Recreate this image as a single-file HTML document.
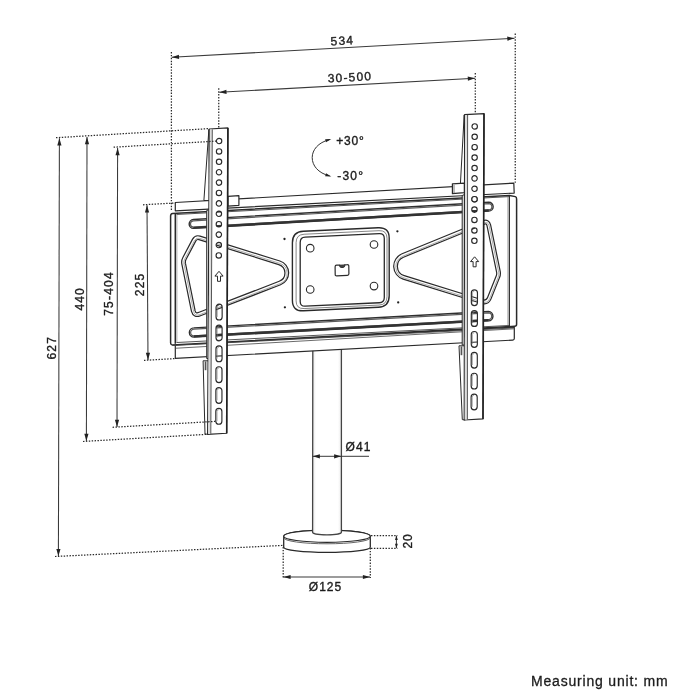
<!DOCTYPE html>
<html><head><meta charset="utf-8"><title>TV stand dimensions</title>
<style>
html,body{margin:0;padding:0;background:#fff;}
body{width:700px;height:700px;overflow:hidden;}
svg{display:block;will-change:transform;font-family:"Liberation Sans",sans-serif;}
</style></head><body>
<svg width="700" height="700" viewBox="0 0 700 700">
<rect width="700" height="700" fill="#fff"/>
<g id="frame">
<defs><linearGradient id="pg" x1="0" x2="1" y1="0" y2="0"><stop offset="0" stop-color="#e8e8e8"/><stop offset="0.12" stop-color="#fff"/><stop offset="0.88" stop-color="#fff"/><stop offset="1" stop-color="#ececec"/></linearGradient></defs>
<path d="M283.7 536.2 L283.7 547.2 A43.3 5.1 0 0 0 370.3 547.2 L370.3 536.2 A43.3 6.1 0 0 0 283.7 536.2 Z" fill="#fff" stroke="#2a2a2a" stroke-width="1.3"/>
<ellipse cx="327.0" cy="536.2" rx="43.3" ry="6.1" fill="#fff" stroke="#2a2a2a" stroke-width="1.2"/>
<path d="M283.7 537.7 A43.3 6.1 0 0 0 370.3 537.7" fill="none" stroke="#555" stroke-width="0.9"/>
<path d="M312.8 350 L312.6 532.3 A14.4 2.6 0 0 0 341.4 532.3 L341.4 348.5 Z" fill="url(#pg)" stroke="none"/>
<path d="M312.8 350 L312.6 532.3 A14.4 2.6 0 0 0 341.4 532.3 L341.4 348.5" fill="none" stroke="#444" stroke-width="1.3"/>
<path d="M175.3 202.50 L513.8 183.08 L514.1999999999999 193.03 L175.3 210.80 Z" fill="#fff" stroke="#2a2a2a" stroke-width="1.2" stroke-linejoin="round"/>
<path d="M175.3 344.58 L514.3 327.18 L514.3 338.54 Q514.3 340.04 512.8 340.12 L175.3 358.35 Z" fill="#fff" stroke="#2a2a2a" stroke-width="1.2" stroke-linejoin="round"/>
<line x1="175.30" y1="348.28" x2="514.30" y2="328.81" stroke="#444" stroke-width="0.8" />
<path d="M172.6 213.48 L509.4 195.40 L515.4 196.62 Q516.6 197.02 516.6 199.02 L516.6 324.27 Q516.6 326.27 514.6 326.37 L172.6 344.92 Q170.6 345.03 170.6 342.53 L170.6 216.09 Q170.6 213.59 172.6 213.48 Z" fill="#fff" stroke="#2a2a2a" stroke-width="1.5" stroke-linejoin="round"/>
<line x1="176.50" y1="214.47" x2="509.40" y2="196.60" stroke="#555" stroke-width="1.0" />
<line x1="176.50" y1="342.52" x2="509.40" y2="325.44" stroke="#555" stroke-width="1.0" />
<line x1="172.50" y1="345.53" x2="513.50" y2="327.93" stroke="#444" stroke-width="0.9" />
<line x1="175.30" y1="213.84" x2="175.30" y2="343.78" stroke="#2a2a2a" stroke-width="1.5" />
<line x1="176.90" y1="214.45" x2="176.90" y2="342.50" stroke="#777" stroke-width="0.6" />
<line x1="509.40" y1="195.40" x2="509.40" y2="326.64" stroke="#2a2a2a" stroke-width="1.1" />
<line x1="508.00" y1="196.78" x2="508.00" y2="325.41" stroke="#666" stroke-width="0.7" />
<path d="M193.41 219.49 L488.75 202.24 A4.40 4.40 0 0 1 488.75 211.04 L193.41 228.40 A4.46 4.46 0 0 1 193.41 219.49 Z" fill="#fff" stroke="#303030" stroke-width="1.4"/>
<path d="M193.41 220.79 L488.75 203.54 A3.10 3.10 0 0 1 488.75 209.74 L193.41 227.10 A3.16 3.16 0 0 1 193.41 220.79 Z" fill="none" stroke="#5a5a5a" stroke-width="1.2"/>
<path d="M193.41 227.75 L488.75 210.39" fill="none" stroke="#333" stroke-width="2.2"/>
<path d="M193.95 327.83 L488.49 311.55 A4.66 4.66 0 0 1 488.49 320.86 L193.95 337.03 A4.60 4.60 0 0 1 193.95 327.83 Z" fill="#fff" stroke="#303030" stroke-width="1.4"/>
<path d="M193.95 329.13 L488.49 312.85 A3.36 3.36 0 0 1 488.49 319.56 L193.95 335.73 A3.30 3.30 0 0 1 193.95 329.13 Z" fill="none" stroke="#5a5a5a" stroke-width="1.2"/>
<path d="M193.95 336.38 L488.49 320.21" fill="none" stroke="#333" stroke-width="2.2"/>
<path d="M292.40 242.80 Q292.40 231.80 303.39 231.28 L378.21 227.72 Q389.20 227.20 389.20 238.20 L389.20 295.80 Q389.20 306.80 378.21 307.31 L303.39 310.79 Q292.40 311.30 292.40 300.30 Z" fill="#fff" stroke="#2a2a2a" stroke-width="1.4"/>
<path d="M296.10 242.62 Q296.10 234.62 304.09 234.24 L379.01 230.68 Q387.00 230.30 387.00 238.30 L387.00 296.70 Q387.00 304.70 379.01 305.07 L304.09 308.56 Q296.10 308.93 296.10 300.93 Z" fill="none" stroke="#666" stroke-width="0.8"/>
<path d="M300.20 242.43 Q300.20 237.43 305.19 237.19 L379.31 233.67 Q384.30 233.43 384.30 238.43 L384.30 297.53 Q384.30 302.53 379.31 302.76 L305.19 306.21 Q300.20 306.44 300.20 301.44 Z" fill="none" stroke="#2a2a2a" stroke-width="1.3"/>
<circle cx="310.2" cy="248.2" r="3.8" fill="#fff" stroke="#2a2a2a" stroke-width="1.1"/>
<circle cx="374.0" cy="244.5" r="3.8" fill="#fff" stroke="#2a2a2a" stroke-width="1.1"/>
<circle cx="310.2" cy="289.5" r="3.8" fill="#fff" stroke="#2a2a2a" stroke-width="1.1"/>
<circle cx="374.0" cy="286.1" r="3.8" fill="#fff" stroke="#2a2a2a" stroke-width="1.1"/>
<circle cx="284.5" cy="239.0" r="1.15" fill="#222"/>
<circle cx="397.4" cy="231.3" r="1.15" fill="#222"/>
<circle cx="284.9" cy="307.3" r="1.15" fill="#222"/>
<circle cx="398.2" cy="302.4" r="1.15" fill="#222"/>
<path d="M336.6 265.2 L339.6 265.05 A2.6 2.4 0 0 0 344.8 264.8 L347.3 264.7 Q348.8 264.6 348.8 266.2 L348.9 273.8 Q348.9 275.3 347.4 275.4 L336.8 275.9 Q335.2 276.0 335.2 274.4 L335.1 266.8 Q335.1 265.3 336.6 265.2 Z" fill="#fff" stroke="#2a2a2a" stroke-width="1.2"/>
<path d="M339.6 265.05 A2.6 2.4 0 0 0 344.8 264.8 Z" fill="#444" stroke="#333" stroke-width="0.6"/>
<path d="M199.5 237.9 L279.3 262.8 A10.7 10.7 0 0 1 279.9 283.0 L199.8 314.0 Q194.6 316.2 193.3 311 L183.6 263.4 Q183.2 260.8 184.5 258.4 L194.2 240 Q196 236.8 199.5 237.9 Z" fill="none" stroke="#2a2a2a" stroke-width="4.9" stroke-linejoin="round" stroke-linecap="round"/>
<path d="M199.5 237.9 L279.3 262.8 A10.7 10.7 0 0 1 279.9 283.0 L199.8 314.0 Q194.6 316.2 193.3 311 L183.6 263.4 Q183.2 260.8 184.5 258.4 L194.2 240 Q196 236.8 199.5 237.9 Z" fill="none" stroke="#fff" stroke-width="2.5" stroke-linejoin="round" stroke-linecap="round"/>
<path d="M199.5 237.9 L279.3 262.8 A10.7 10.7 0 0 1 279.9 283.0 L199.8 314.0 Q194.6 316.2 193.3 311 L183.6 263.4 Q183.2 260.8 184.5 258.4 L194.2 240 Q196 236.8 199.5 237.9 Z" fill="none" stroke="#777" stroke-width="0.6" stroke-linejoin="round" transform="translate(0.3,0.5)"/>
<path d="M402.8 255.5 L483.5 222.5 Q487.8 220.8 488.8 225.2 L498.4 271.8 Q498.9 274.4 497.9 276.7 L489.3 298.2 Q487.3 303.2 481.5 301.5 L403.7 277.4 A11.65 11.65 0 0 1 402.8 255.5 Z" fill="none" stroke="#2a2a2a" stroke-width="4.9" stroke-linejoin="round" stroke-linecap="round"/>
<path d="M402.8 255.5 L483.5 222.5 Q487.8 220.8 488.8 225.2 L498.4 271.8 Q498.9 274.4 497.9 276.7 L489.3 298.2 Q487.3 303.2 481.5 301.5 L403.7 277.4 A11.65 11.65 0 0 1 402.8 255.5 Z" fill="none" stroke="#fff" stroke-width="2.5" stroke-linejoin="round" stroke-linecap="round"/>
<path d="M402.8 255.5 L483.5 222.5 Q487.8 220.8 488.8 225.2 L498.4 271.8 Q498.9 274.4 497.9 276.7 L489.3 298.2 Q487.3 303.2 481.5 301.5 L403.7 277.4 A11.65 11.65 0 0 1 402.8 255.5 Z" fill="none" stroke="#777" stroke-width="0.6" stroke-linejoin="round" transform="translate(0.3,0.5)"/>
</g>
<g id="brackets">
<path d="M208.9 129.3 L203.9 200.5 L209.8 200.5 Z" fill="#fff" stroke="#2a2a2a" stroke-width="1.0" stroke-linejoin="round"/>
<path d="M203.1 360.8 L205.0 434.0 L208.6 434.4 L208.6 360.8 Z" fill="#fff" stroke="#2a2a2a" stroke-width="1.0" stroke-linejoin="round"/>
<rect x="204.7" y="361.40000000000003" width="1.7" height="8.8" fill="#555"/>
<path d="M228.0 196.4 L238.9 195.7 L238.9 205.29999999999998 L228.0 206.20000000000002 Z" fill="#fff" stroke="#2a2a2a" stroke-width="1.2" stroke-linejoin="round"/>
<path d="M209.3 209.5 L206.7 210.5 L206.7 358.5 L208.6 358.5 Z" fill="#e4e4e4" stroke="#2a2a2a" stroke-width="1.0" stroke-linejoin="round"/>
<path d="M209.3 129.0 L227.9 127.9 L226.7 433.2 L207.6 434.4 Z M216.40 141.00 a2.7 2.7 0 1 0 5.4 0 a2.7 2.7 0 1 0 -5.4 0 Z M216.37 151.40 a2.7 2.7 0 1 0 5.4 0 a2.7 2.7 0 1 0 -5.4 0 Z M216.34 161.80 a2.7 2.7 0 1 0 5.4 0 a2.7 2.7 0 1 0 -5.4 0 Z M216.31 172.20 a2.7 2.7 0 1 0 5.4 0 a2.7 2.7 0 1 0 -5.4 0 Z M216.28 182.60 a2.7 2.7 0 1 0 5.4 0 a2.7 2.7 0 1 0 -5.4 0 Z M216.25 193.00 a2.7 2.7 0 1 0 5.4 0 a2.7 2.7 0 1 0 -5.4 0 Z M216.22 203.40 a2.7 2.7 0 1 0 5.4 0 a2.7 2.7 0 1 0 -5.4 0 Z M216.19 213.80 a2.7 2.7 0 1 0 5.4 0 a2.7 2.7 0 1 0 -5.4 0 Z M216.16 224.20 a2.7 2.7 0 1 0 5.4 0 a2.7 2.7 0 1 0 -5.4 0 Z M216.13 234.60 a2.7 2.7 0 1 0 5.4 0 a2.7 2.7 0 1 0 -5.4 0 Z M216.10 245.00 a2.7 2.7 0 1 0 5.4 0 a2.7 2.7 0 1 0 -5.4 0 Z M216.07 255.40 a2.7 2.7 0 1 0 5.4 0 a2.7 2.7 0 1 0 -5.4 0 Z M216.05 307.25 a3.05 3.05 0 0 1 6.1 0 L222.15 316.95 a3.05 3.05 0 0 1 -6.1 0 Z M216.00 328.10 a3.05 3.05 0 0 1 6.1 0 L222.10 337.80 a3.05 3.05 0 0 1 -6.1 0 Z M215.95 348.95 a3.05 3.05 0 0 1 6.1 0 L222.05 358.65 a3.05 3.05 0 0 1 -6.1 0 Z M215.90 369.80 a3.05 3.05 0 0 1 6.1 0 L222.00 379.50 a3.05 3.05 0 0 1 -6.1 0 Z M215.85 390.65 a3.05 3.05 0 0 1 6.1 0 L221.95 400.35 a3.05 3.05 0 0 1 -6.1 0 Z M215.80 411.50 a3.05 3.05 0 0 1 6.1 0 L221.90 421.20 a3.05 3.05 0 0 1 -6.1 0 Z " fill="#fff" fill-rule="evenodd" stroke="#2a2a2a" stroke-width="1.15" stroke-linejoin="round"/>
<path d="M209.9 129.5 L212.20000000000002 129.4 L210.7 433.9 L208.2 434.0 Z" fill="#dcdcdc" stroke="none"/>
<line x1="212.30" y1="129.40" x2="210.80" y2="433.90" stroke="#444" stroke-width="0.9" />
<line x1="227.90" y1="127.90" x2="226.70" y2="433.20" stroke="#222" stroke-width="1.6" />
<path d="M217.25 316.95 L217.25 307.25 a1.8499999999999999 1.8499999999999999 0 0 1 1.85 -1.85" fill="none" stroke="#777" stroke-width="0.6"/>
<path d="M217.20 337.80 L217.20 328.10 a1.8499999999999999 1.8499999999999999 0 0 1 1.85 -1.85" fill="none" stroke="#777" stroke-width="0.6"/>
<path d="M217.15 358.65 L217.15 348.95 a1.8499999999999999 1.8499999999999999 0 0 1 1.85 -1.85" fill="none" stroke="#777" stroke-width="0.6"/>
<path d="M217.10 379.50 L217.10 369.80 a1.8499999999999999 1.8499999999999999 0 0 1 1.85 -1.85" fill="none" stroke="#777" stroke-width="0.6"/>
<path d="M217.05 400.35 L217.05 390.65 a1.8499999999999999 1.8499999999999999 0 0 1 1.85 -1.85" fill="none" stroke="#777" stroke-width="0.6"/>
<path d="M217.00 421.20 L217.00 411.50 a1.8499999999999999 1.8499999999999999 0 0 1 1.85 -1.85" fill="none" stroke="#777" stroke-width="0.6"/>
<path d="M219.0 271.3 L223.1 276.1 L220.5 276.1 L220.5 281.3 L217.5 281.3 L217.5 276.1 L214.9 276.1 Z" fill="#fff" stroke="#2a2a2a" stroke-width="1.0" stroke-linejoin="round"/>
<path d="M464.20000000000005 114.89999999999999 L460.4 184 L465.1 184 Z" fill="#fff" stroke="#2a2a2a" stroke-width="1.0" stroke-linejoin="round"/>
<path d="M459.0 345.8 L462.3 419.6 L465.2 420.0 L465.2 345.8 Z" fill="#fff" stroke="#2a2a2a" stroke-width="1.0" stroke-linejoin="round"/>
<rect x="460.6" y="346.40000000000003" width="1.7" height="8.8" fill="#555"/>
<path d="M452.4 183.8 L464.4 183.1 L464.4 192.7 L452.4 193.60000000000002 Z" fill="#fff" stroke="#2a2a2a" stroke-width="1.2" stroke-linejoin="round"/>
<path d="M454.0 185.0 L454.0 193.4" stroke="#555" stroke-width="0.8"/>
<path d="M464.6 194.5 L462.2 195.5 L462.2 345.0 L465.2 345.0 Z" fill="#e4e4e4" stroke="#2a2a2a" stroke-width="1.0" stroke-linejoin="round"/>
<path d="M464.6 114.6 L484.0 113.6 L483.0 418.9 L464.2 420.0 Z M472.00 126.40 a2.7 2.7 0 1 0 5.4 0 a2.7 2.7 0 1 0 -5.4 0 Z M471.97 136.80 a2.7 2.7 0 1 0 5.4 0 a2.7 2.7 0 1 0 -5.4 0 Z M471.94 147.20 a2.7 2.7 0 1 0 5.4 0 a2.7 2.7 0 1 0 -5.4 0 Z M471.91 157.60 a2.7 2.7 0 1 0 5.4 0 a2.7 2.7 0 1 0 -5.4 0 Z M471.88 168.00 a2.7 2.7 0 1 0 5.4 0 a2.7 2.7 0 1 0 -5.4 0 Z M471.85 178.40 a2.7 2.7 0 1 0 5.4 0 a2.7 2.7 0 1 0 -5.4 0 Z M471.82 188.80 a2.7 2.7 0 1 0 5.4 0 a2.7 2.7 0 1 0 -5.4 0 Z M471.79 199.20 a2.7 2.7 0 1 0 5.4 0 a2.7 2.7 0 1 0 -5.4 0 Z M471.76 209.60 a2.7 2.7 0 1 0 5.4 0 a2.7 2.7 0 1 0 -5.4 0 Z M471.73 220.00 a2.7 2.7 0 1 0 5.4 0 a2.7 2.7 0 1 0 -5.4 0 Z M471.70 230.40 a2.7 2.7 0 1 0 5.4 0 a2.7 2.7 0 1 0 -5.4 0 Z M471.67 240.80 a2.7 2.7 0 1 0 5.4 0 a2.7 2.7 0 1 0 -5.4 0 Z M471.35 292.85 a3.05 3.05 0 0 1 6.1 0 L477.45 302.55 a3.05 3.05 0 0 1 -6.1 0 Z M471.30 313.70 a3.05 3.05 0 0 1 6.1 0 L477.40 323.40 a3.05 3.05 0 0 1 -6.1 0 Z M471.25 334.55 a3.05 3.05 0 0 1 6.1 0 L477.35 344.25 a3.05 3.05 0 0 1 -6.1 0 Z M471.20 355.40 a3.05 3.05 0 0 1 6.1 0 L477.30 365.10 a3.05 3.05 0 0 1 -6.1 0 Z M471.15 376.25 a3.05 3.05 0 0 1 6.1 0 L477.25 385.95 a3.05 3.05 0 0 1 -6.1 0 Z M471.10 397.10 a3.05 3.05 0 0 1 6.1 0 L477.20 406.80 a3.05 3.05 0 0 1 -6.1 0 Z " fill="#fff" fill-rule="evenodd" stroke="#2a2a2a" stroke-width="1.15" stroke-linejoin="round"/>
<circle cx="474.49" cy="199.20" r="2.7" fill="#fff" stroke="#2a2a2a" stroke-width="1.15"/>
<path d="M465.20000000000005 115.1 L467.5 115.0 L467.3 419.5 L464.8 419.6 Z" fill="#dcdcdc" stroke="none"/>
<line x1="467.60" y1="115.00" x2="467.40" y2="419.50" stroke="#444" stroke-width="0.9" />
<line x1="484.00" y1="113.60" x2="483.00" y2="418.90" stroke="#222" stroke-width="1.6" />
<path d="M472.55 302.55 L472.55 292.85 a1.8499999999999999 1.8499999999999999 0 0 1 1.85 -1.85" fill="none" stroke="#777" stroke-width="0.6"/>
<path d="M472.50 323.40 L472.50 313.70 a1.8499999999999999 1.8499999999999999 0 0 1 1.85 -1.85" fill="none" stroke="#777" stroke-width="0.6"/>
<path d="M472.45 344.25 L472.45 334.55 a1.8499999999999999 1.8499999999999999 0 0 1 1.85 -1.85" fill="none" stroke="#777" stroke-width="0.6"/>
<path d="M472.40 365.10 L472.40 355.40 a1.8499999999999999 1.8499999999999999 0 0 1 1.85 -1.85" fill="none" stroke="#777" stroke-width="0.6"/>
<path d="M472.35 385.95 L472.35 376.25 a1.8499999999999999 1.8499999999999999 0 0 1 1.85 -1.85" fill="none" stroke="#777" stroke-width="0.6"/>
<path d="M472.30 406.80 L472.30 397.10 a1.8499999999999999 1.8499999999999999 0 0 1 1.85 -1.85" fill="none" stroke="#777" stroke-width="0.6"/>
<path d="M474.59999999999997 256.8 L478.7 261.6 L476.09999999999997 261.6 L476.09999999999997 266.8 L473.09999999999997 266.8 L473.09999999999997 261.6 L470.49999999999994 261.6 Z" fill="#fff" stroke="#2a2a2a" stroke-width="1.0" stroke-linejoin="round"/>
</g>
<g id="dims">
<line x1="171.40" y1="52.00" x2="171.40" y2="211.00" stroke="#2a2a2a" stroke-width="1.25" stroke-dasharray="1.45 1.45"/>
<line x1="515.25" y1="33.50" x2="515.25" y2="183.00" stroke="#2a2a2a" stroke-width="1.25" stroke-dasharray="1.45 1.45"/>
<line x1="171.80" y1="57.30" x2="514.50" y2="38.30" stroke="#3a3a3a" stroke-width="1.05" />
<polygon points="171.80,57.30 178.87,54.80 179.11,59.00" fill="#222"/>
<polygon points="514.50,38.30 507.43,40.80 507.19,36.60" fill="#222"/>
<line x1="218.75" y1="88.30" x2="218.75" y2="128.00" stroke="#2a2a2a" stroke-width="1.25" stroke-dasharray="1.45 1.45"/>
<line x1="475.30" y1="73.00" x2="475.30" y2="113.50" stroke="#2a2a2a" stroke-width="1.25" stroke-dasharray="1.45 1.45"/>
<line x1="219.30" y1="92.30" x2="475.00" y2="78.30" stroke="#3a3a3a" stroke-width="1.05" />
<polygon points="219.30,92.30 226.37,89.81 226.60,94.00" fill="#222"/>
<polygon points="475.00,78.30 467.93,80.79 467.70,76.60" fill="#222"/>
<line x1="56.00" y1="137.70" x2="209.00" y2="128.60" stroke="#2a2a2a" stroke-width="1.25" stroke-dasharray="1.45 1.45"/>
<line x1="113.60" y1="147.20" x2="216.00" y2="141.10" stroke="#2a2a2a" stroke-width="1.25" stroke-dasharray="1.45 1.45"/>
<line x1="143.00" y1="204.80" x2="175.00" y2="203.00" stroke="#2a2a2a" stroke-width="1.25" stroke-dasharray="1.45 1.45"/>
<line x1="144.00" y1="360.40" x2="175.00" y2="358.60" stroke="#2a2a2a" stroke-width="1.25" stroke-dasharray="1.45 1.45"/>
<line x1="112.60" y1="427.30" x2="216.00" y2="421.30" stroke="#2a2a2a" stroke-width="1.25" stroke-dasharray="1.45 1.45"/>
<line x1="83.00" y1="441.50" x2="207.00" y2="434.30" stroke="#2a2a2a" stroke-width="1.25" stroke-dasharray="1.45 1.45"/>
<line x1="55.00" y1="556.50" x2="283.00" y2="545.40" stroke="#2a2a2a" stroke-width="1.25" stroke-dasharray="1.45 1.45"/>
<line x1="59.40" y1="138.20" x2="58.40" y2="556.10" stroke="#3a3a3a" stroke-width="1.05" />
<polygon points="59.40,138.20 61.48,145.41 57.28,145.39" fill="#222"/>
<polygon points="58.40,556.10 56.32,548.89 60.52,548.91" fill="#222"/>
<line x1="87.00" y1="137.00" x2="86.40" y2="441.00" stroke="#3a3a3a" stroke-width="1.05" />
<polygon points="87.00,137.00 89.09,144.20 84.89,144.20" fill="#222"/>
<polygon points="86.40,441.00 84.31,433.80 88.51,433.80" fill="#222"/>
<line x1="117.60" y1="148.00" x2="117.00" y2="427.00" stroke="#3a3a3a" stroke-width="1.05" />
<polygon points="117.60,148.00 119.68,155.20 115.48,155.20" fill="#222"/>
<polygon points="117.00,427.00 114.92,419.80 119.12,419.80" fill="#222"/>
<line x1="147.00" y1="205.30" x2="148.00" y2="360.00" stroke="#3a3a3a" stroke-width="1.05" />
<polygon points="147.00,205.30 149.15,212.49 144.95,212.51" fill="#222"/>
<polygon points="148.00,360.00 145.85,352.81 150.05,352.79" fill="#222"/>
<line x1="312.50" y1="456.30" x2="369.00" y2="456.30" stroke="#3a3a3a" stroke-width="1.0" />
<polygon points="312.70,456.30 319.90,454.20 319.90,458.40" fill="#222"/>
<polygon points="341.30,456.30 334.10,458.40 334.10,454.20" fill="#222"/>
<line x1="283.20" y1="547.00" x2="283.20" y2="578.00" stroke="#2a2a2a" stroke-width="1.25" stroke-dasharray="1.45 1.45"/>
<line x1="370.30" y1="548.00" x2="370.30" y2="578.00" stroke="#2a2a2a" stroke-width="1.25" stroke-dasharray="1.45 1.45"/>
<line x1="283.40" y1="577.00" x2="370.10" y2="577.00" stroke="#3a3a3a" stroke-width="1.05" />
<polygon points="283.40,577.00 290.60,574.90 290.60,579.10" fill="#222"/>
<polygon points="370.10,577.00 362.90,579.10 362.90,574.90" fill="#222"/>
<line x1="371.00" y1="535.50" x2="397.50" y2="535.50" stroke="#2a2a2a" stroke-width="1.25" stroke-dasharray="1.45 1.45"/>
<line x1="371.00" y1="548.30" x2="397.50" y2="548.30" stroke="#2a2a2a" stroke-width="1.25" stroke-dasharray="1.45 1.45"/>
<line x1="396.40" y1="535.60" x2="396.40" y2="548.20" stroke="#333" stroke-width="1.0" />
<polygon points="396.40,535.60 397.80,540.10 395.00,540.10" fill="#222"/>
<polygon points="396.40,548.20 395.00,543.70 397.80,543.70" fill="#222"/>
<text x="330.70" y="45.40" font-size="12" text-anchor="start" font-weight="normal" fill="#1c1c1c" stroke="#1c1c1c" stroke-width="0.36" transform="rotate(-3.15 330.70 45.40)" textLength="22.6" lengthAdjust="spacing">534</text>
<text x="328.00" y="82.60" font-size="12" text-anchor="start" font-weight="normal" fill="#1c1c1c" stroke="#1c1c1c" stroke-width="0.36" transform="rotate(-3.15 328.00 82.60)" textLength="43.2" lengthAdjust="spacing">30-500</text>
<text x="56.30" y="359.60" font-size="12" text-anchor="start" font-weight="normal" fill="#1c1c1c" stroke="#1c1c1c" stroke-width="0.36" transform="rotate(-90 56.30 359.60)" textLength="22.6" lengthAdjust="spacing">627</text>
<text x="83.90" y="310.60" font-size="12" text-anchor="start" font-weight="normal" fill="#1c1c1c" stroke="#1c1c1c" stroke-width="0.36" transform="rotate(-90 83.90 310.60)" textLength="22.2" lengthAdjust="spacing">440</text>
<text x="113.50" y="315.80" font-size="12" text-anchor="start" font-weight="normal" fill="#1c1c1c" stroke="#1c1c1c" stroke-width="0.36" transform="rotate(-90 113.50 315.80)" textLength="43.4" lengthAdjust="spacing">75-404</text>
<text x="144.30" y="296.20" font-size="12" text-anchor="start" font-weight="normal" fill="#1c1c1c" stroke="#1c1c1c" stroke-width="0.36" transform="rotate(-90 144.30 296.20)" textLength="22.4" lengthAdjust="spacing">225</text>
<text x="336.20" y="145.20" font-size="12" text-anchor="start" font-weight="normal" fill="#1c1c1c" stroke="#1c1c1c" stroke-width="0.36" textLength="27.6" lengthAdjust="spacing">+30°</text>
<text x="337.20" y="180.00" font-size="12" text-anchor="start" font-weight="normal" fill="#1c1c1c" stroke="#1c1c1c" stroke-width="0.36" textLength="25.8" lengthAdjust="spacing">-30°</text>
<text x="345.40" y="451.00" font-size="12" text-anchor="start" font-weight="normal" fill="#1c1c1c" stroke="#1c1c1c" stroke-width="0.36" textLength="25" lengthAdjust="spacing">Ø41</text>
<text x="308.80" y="591.20" font-size="12" text-anchor="start" font-weight="normal" fill="#1c1c1c" stroke="#1c1c1c" stroke-width="0.36" textLength="32.4" lengthAdjust="spacing">Ø125</text>
<text x="412.30" y="548.60" font-size="12" text-anchor="start" font-weight="normal" fill="#1c1c1c" stroke="#1c1c1c" stroke-width="0.36" transform="rotate(-90 412.30 548.60)" textLength="14.2" lengthAdjust="spacing">20</text>
<text x="531.00" y="685.60" font-size="14" text-anchor="start" font-weight="normal" fill="#1c1c1c" stroke="#1c1c1c" stroke-width="0.3" textLength="136.6" lengthAdjust="spacing">Measuring unit: mm</text>
<path d="M329.5 139.6 C318 142.5 312.2 150 312.2 157.6 C312.2 165.5 318 173 329.5 175.9" fill="none" stroke="#333" stroke-width="1"/>
<polygon points="331.30,139.00 325.98,142.16 325.12,139.29" fill="#222"/>
<polygon points="331.30,176.50 325.12,176.21 325.98,173.34" fill="#222"/>
</g>
</svg>
</body></html>
